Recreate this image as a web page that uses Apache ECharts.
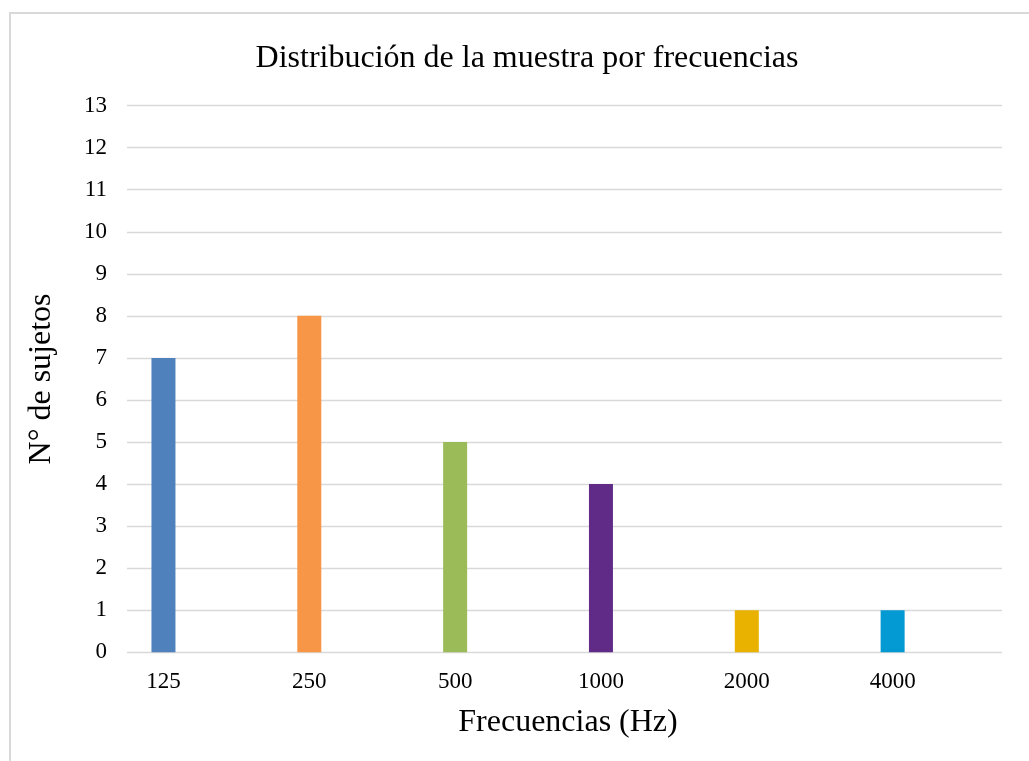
<!DOCTYPE html>
<html>
<head>
<meta charset="utf-8">
<script src="https://cdn.jsdelivr.net/npm/echarts@6/dist/echarts.min.js"></script>
<style>
  html, body { margin: 0; padding: 0; background: #ffffff; }
  #chart { width: 1029px; height: 761px; }
</style>
</head>
<body>
<div id="chart"></div>
<script>
// Frequencies tested and number of subjects per frequency
const categories = ['125', '250', '500', '1000', '2000', '4000'];
const subjects = [7, 8, 5, 4, 1, 1];
const barColors = ['#4f81bd', '#f79646', '#9bbb59', '#5f2b87', '#e9b100', '#0399d3'];
const yTicks = { min: 0, max: 13, interval: 1 };

const serif = "'Liberation Serif', 'Times New Roman', serif";
const plotTop = 105.6;
const plotHeight = 546.7;
const plotLeft = 127;
const plotWidth = 875;
const bandWidth = plotWidth / categories.length;
// bars sit a quarter band to the left of each band centre
const barShift = bandWidth / 4;

const chart = echarts.init(document.getElementById('chart'), null, { renderer: 'canvas' });

chart.setOption({
  backgroundColor: '#ffffff',
  animation: false,
  title: {
    text: 'Distribución de la muestra por frecuencias',
    left: 522,
    top: 38,
    textAlign: 'center',
    textStyle: { fontFamily: serif, fontSize: 32, fontWeight: 'normal', color: '#000000' }
  },
  graphic: [{
    type: 'rect',
    shape: { x: 10, y: 13, width: 1100, height: 800 },
    style: { fill: 'none', stroke: '#d9d9d9', lineWidth: 2 },
    silent: true
  }],
  grid: [
    // value grid: gridlines and y labels
    { left: plotLeft, top: plotTop, width: plotWidth, height: plotHeight, containLabel: false },
    // bar grid: same height, shifted so bars land left of band centres
    { left: plotLeft - barShift, top: plotTop, width: plotWidth, height: plotHeight, containLabel: false }
  ],
  xAxis: [
    {
      gridIndex: 0, type: 'category', data: categories,
      axisLine: { show: false }, axisTick: { show: false }, axisLabel: { show: false },
      name: 'Frecuencias (Hz)', nameLocation: 'middle', nameGap: 54,
      nameTextStyle: { fontFamily: serif, fontSize: 32, color: '#000000', padding: [0, 0, 0, 7] }
    },
    {
      gridIndex: 1, type: 'category', data: categories,
      axisLine: { show: false }, axisTick: { show: false },
      axisLabel: { fontFamily: serif, fontSize: 23, color: '#000000', margin: 18 }
    }
  ],
  yAxis: [
    {
      gridIndex: 0, type: 'value', min: yTicks.min, max: yTicks.max, interval: yTicks.interval,
      axisLine: { show: false }, axisTick: { show: false },
      axisLabel: { fontFamily: serif, fontSize: 23, color: '#000000', margin: 20 },
      splitLine: { show: true, lineStyle: { color: '#d9d9d9', width: 1.4 } },
      name: 'N° de sujetos', nameLocation: 'middle', nameGap: 69, nameRotate: 90,
      nameTextStyle: { fontFamily: serif, fontSize: 32, color: '#000000' }
    },
    {
      gridIndex: 1, type: 'value', min: yTicks.min, max: yTicks.max, interval: yTicks.interval,
      show: false, splitLine: { show: false }
    }
  ],
  series: [{
    type: 'bar',
    xAxisIndex: 1,
    yAxisIndex: 1,
    barWidth: 24,
    data: subjects.map((v, i) => ({ value: v, itemStyle: { color: barColors[i] } }))
  }]
});
</script>
</body>
</html>
